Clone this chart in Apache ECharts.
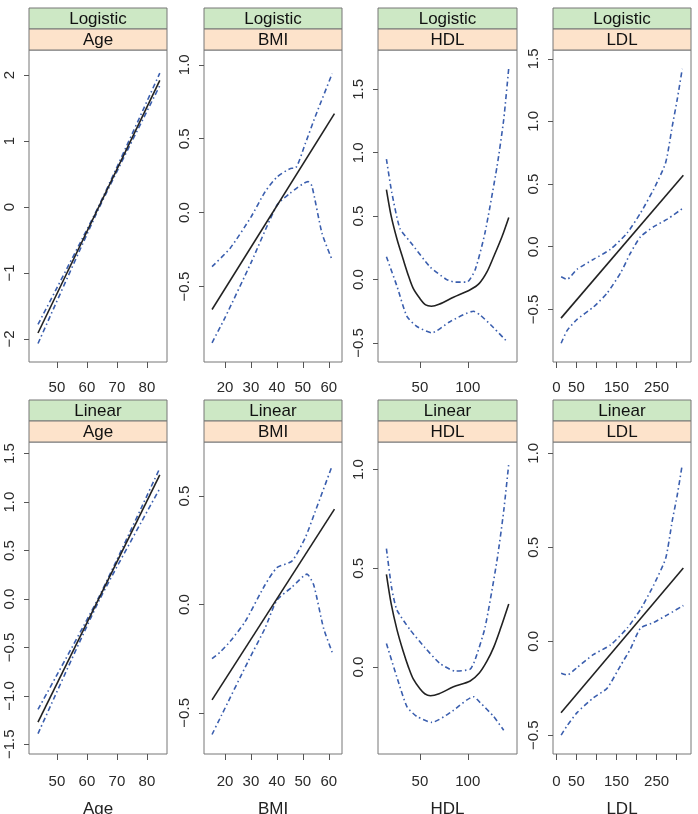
<!DOCTYPE html>
<html>
<head>
<meta charset="utf-8">
<title>Logistic vs Linear</title>
<script src="https://cdn.jsdelivr.net/npm/echarts@6/dist/echarts.min.js"></script>
<style>
  html, body { margin: 0; padding: 0; background: #fff; }
  #chart { width: 698px; height: 814px; }
</style>
</head>
<body>
<div id="chart"></div>
<script>
// ---- data ----
var models = ['Logistic', 'Linear'];
var vars = ['Age', 'BMI', 'HDL', 'LDL'];

// x tick values per variable
var xTicks = {
  Age: [50, 60, 70, 80],
  BMI: [20, 30, 40, 50, 60],
  HDL: [50, 100],
  LDL: [0, 50, 100, 150, 200, 250, 300]
};
var xTickLabels = {
  Age: ['50', '60', '70', '80'],
  BMI: ['20', '30', '40', '50', '60'],
  HDL: ['50', '100'],
  LDL: ['0', '50', '', '150', '', '250', '']
};
var xRange = { Age: [40.7, 86.7], BMI: [11.9, 65.1], HDL: [6.2, 151.4], LDL: [-8.3, 335.8] };

// y ranges + ticks, per panel (row, col)
var yRange = [
  [[-2.35, 2.38], [-1.01, 1.10], [-0.65, 1.81], [-0.92, 1.57]],
  [[-1.60, 1.62], [-0.69, 0.75], [-0.44, 1.14], [-0.60, 1.06]]
];
var yTicks = [
  [[-2, -1, 0, 1, 2], [-0.5, 0, 0.5, 1], [-0.5, 0, 0.5, 1, 1.5], [-0.5, 0, 0.5, 1, 1.5]],
  [[-1.5, -1, -0.5, 0, 0.5, 1, 1.5], [-0.5, 0, 0.5], [0, 0.5, 1], [-0.5, 0, 0.5, 1]]
];

// Logistic fits
var logAgeFit = [[43.7, -1.91], [84.3, 1.92]];
var logAgeUp = [[43.7, -1.78], [64, 0.02], [84.3, 2.03]];
var logAgeLo = [[43.7, -2.07], [64, -0.02], [84.3, 1.84]];

var logBmiFit = [[15.0, -0.655], [62.2, 0.67]];
var logBmiUp = [[15, -0.365], [22, -0.24], [30, -0.03], [35.4, 0.14], [40, 0.24], [45.8, 0.30], [47, 0.30],
  [51, 0.47], [54.8, 0.65], [61.3, 0.94]];
var logBmiLo = [[15, -0.88], [20, -0.71], [30, -0.34], [40, 0.05], [45, 0.13], [52, 0.21], [53.5, 0.18],
  [57.4, -0.14], [61.3, -0.32]];

var logHdlFit = [[15, 0.71], [20, 0.50], [26, 0.32], [32.5, 0.16], [38, 0.03], [43, -0.07], [50, -0.15],
  [56, -0.20], [62, -0.21], [70, -0.195], [85, -0.14], [102.5, -0.08], [112, -0.03], [120, 0.06], [127, 0.18],
  [135.8, 0.34], [142.8, 0.49]];
var logHdlUp = [[15, 0.95], [20.5, 0.69], [29.2, 0.40], [39.6, 0.30], [60.6, 0.10], [78, 0.0], [86.8, -0.02],
  [99, -0.02], [107.8, 0.08], [118, 0.37], [130.5, 0.89], [137.5, 1.26], [142.8, 1.67]];
var logHdlLo = [[15, 0.18], [25.9, -0.05], [36.4, -0.29], [46.8, -0.37], [62.5, -0.42], [81.8, -0.33],
  [106, -0.25], [113, -0.28], [127, -0.38], [141, -0.49]];

var logLdlFit = [[11.7, -0.57], [316.7, 0.57]];
var logLdlUp = [[12, -0.24], [26.7, -0.26], [51.7, -0.18], [93, -0.10], [135, -0.02], [176.7, 0.11],
  [210, 0.27], [243, 0.46], [272.5, 0.67], [289, 0.96], [301.7, 1.18], [314, 1.42]];
var logLdlLo = [[12, -0.77], [26.7, -0.67], [51.7, -0.58], [93, -0.48], [126.7, -0.37], [160, -0.21],
  [185, -0.05], [210, 0.08], [243, 0.16], [276.7, 0.22], [316.7, 0.31]];

// Linear fits
var linAgeFit = [[43.7, -1.27], [84.3, 1.28]];
var linAgeUp = [[43.7, -1.14], [64, 0.02], [84.3, 1.35]];
var linAgeLo = [[43.7, -1.39], [64, -0.02], [84.3, 1.14]];

var linBmiFit = [[15.0, -0.44], [62.2, 0.44]];
var linBmiUp = [[15, -0.25], [18.1, -0.22], [22, -0.17], [27.7, -0.08], [35.4, 0.09], [40, 0.17], [45.8, 0.20],
  [51, 0.31], [54.8, 0.43], [61.3, 0.64]];
var linBmiLo = [[15, -0.60], [18.7, -0.51], [29, -0.26], [35.4, -0.11], [40, 0.02], [45.8, 0.08], [51.6, 0.14],
  [54.2, 0.09], [58, -0.11], [61.3, -0.22]];

var linHdlFit = [[15, 0.47], [20, 0.32], [26, 0.19], [32.5, 0.08], [38, 0.0], [43, -0.06], [50, -0.11],
  [55, -0.135], [61, -0.145], [70, -0.135], [85, -0.10], [102.5, -0.07], [112, -0.03], [120, 0.03], [127, 0.10],
  [133.8, 0.19], [142.8, 0.32]];
var linHdlUp = [[15, 0.60], [20.5, 0.40], [25.9, 0.29], [39.6, 0.19], [55, 0.10], [70.6, 0.02], [86.8, -0.02],
  [102.5, -0.01], [107.8, 0.04], [118, 0.20], [130.5, 0.54], [137.5, 0.79], [142.8, 1.03]];
var linHdlLo = [[15, 0.12], [25.9, -0.05], [36.4, -0.20], [46.8, -0.25], [62.5, -0.28], [81.8, -0.23],
  [106, -0.15], [113, -0.18], [127, -0.25], [137.5, -0.32]];

var linLdlFit = [[11.7, -0.38], [316.7, 0.39]];
var linLdlUp = [[12, -0.17], [26.7, -0.18], [51.7, -0.14], [93, -0.07], [135, -0.02], [176.7, 0.07],
  [210, 0.17], [243, 0.30], [272.5, 0.44], [289, 0.64], [301.7, 0.78], [314, 0.94]];
var linLdlLo = [[12, -0.50], [26.7, -0.45], [51.7, -0.38], [93, -0.30], [126.7, -0.25], [160, -0.13],
  [185, -0.04], [210, 0.07], [243, 0.10], [276.7, 0.14], [316.7, 0.19]];

var fits = [
  [[logAgeFit, logAgeUp, logAgeLo], [logBmiFit, logBmiUp, logBmiLo], [logHdlFit, logHdlUp, logHdlLo], [logLdlFit, logLdlUp, logLdlLo]],
  [[linAgeFit, linAgeUp, linAgeLo], [linBmiFit, linBmiUp, linBmiLo], [linHdlFit, linHdlUp, linHdlLo], [linLdlFit, linLdlUp, linLdlLo]]
];

// ---- layout ----
var colLeft = [29, 204, 378, 553];
var colWidth = [138, 138, 139, 138];
var rowTop = [50, 442];
var plotH = 312;
var stripH = 21;

var font = 'Liberation Sans, Arial, Helvetica, sans-serif';
var blue = '#3a5eae';
var minus = function (s) { return String(s).replace('-', '\u2212'); };

var grids = [], xAxes = [], yAxes = [], series = [], graphics = [];
var idx = 0;
for (var r = 0; r < 2; r++) {
  for (var c = 0; c < 4; c++) {
    var v = vars[c];
    grids.push({
      left: colLeft[c], top: rowTop[r], width: colWidth[c], height: plotH,
      containLabel: false, outerBoundsMode: 'none',
      show: true, borderColor: '#777', borderWidth: 1, backgroundColor: '#fff'
    });
    var intFmt = yTicks[r][c].every(Number.isInteger);
    xAxes.push({
      type: 'value', gridIndex: idx, min: xRange[v][0], max: xRange[v][1],
      axisLine: { show: false, onZero: false }, splitLine: { show: false },
      axisTick: { show: true, inside: false, length: 6, lineStyle: { color: '#555' }, customValues: xTicks[v] },
      axisLabel: {
        customValues: xTicks[v], color: '#2a2a2a', fontSize: 15, fontFamily: font, margin: r === 0 ? 18 : 20,
        formatter: (function (vv) {
          return function (val) {
            var i = xTicks[vv].indexOf(val);
            return i >= 0 ? xTickLabels[vv][i] : '';
          };
        })(v)
      },
      name: r === 1 ? v : '', nameLocation: 'middle', nameGap: 47,
      nameTextStyle: { color: '#222', fontSize: 17, fontFamily: font }
    });
    yAxes.push({
      type: 'value', gridIndex: idx, min: yRange[r][c][0], max: yRange[r][c][1],
      axisLine: { show: false, onZero: false }, splitLine: { show: false },
      axisTick: { show: true, inside: false, length: 5, lineStyle: { color: '#555' }, customValues: yTicks[r][c] },
      axisLabel: {
        customValues: yTicks[r][c], rotate: 90, color: '#2a2a2a', fontSize: 15, fontFamily: font, margin: 12,
        formatter: (function (isInt) {
          return function (val) {
            if (Math.abs(val) < 1e-9) val = 0;
            return minus(isInt ? val.toFixed(0) : val.toFixed(1));
          };
        })(intFmt)
      }
    });
    var f = fits[r][c];
    series.push({
      type: 'line', xAxisIndex: idx, yAxisIndex: idx, data: f[0], showSymbol: false,
      smooth: c === 2 ? 0.3 : false, silent: true, z: 3,
      lineStyle: { color: '#222', width: 1.6 }
    });
    for (var k = 1; k < 3; k++) {
      series.push({
        type: 'line', xAxisIndex: idx, yAxisIndex: idx, data: f[k], showSymbol: false,
        smooth: 0.2, silent: true, z: 2,
        lineStyle: { color: blue, width: 1.6, type: [5, 3, 1.5, 3] }
      });
    }
    // strips
    var sy = rowTop[r] - 2 * stripH;
    graphics.push({
      type: 'rect', shape: { x: colLeft[c], y: sy, width: colWidth[c], height: stripH },
      style: { fill: '#cde8c5', stroke: '#777', lineWidth: 1 }
    });
    graphics.push({
      type: 'rect', shape: { x: colLeft[c], y: sy + stripH, width: colWidth[c], height: stripH },
      style: { fill: '#fde3cb', stroke: '#777', lineWidth: 1 }
    });
    graphics.push({
      type: 'text', x: colLeft[c] + colWidth[c] / 2, y: sy + stripH / 2 + 1,
      style: { text: models[r], fill: '#111', font: '17px ' + font, textAlign: 'center', textVerticalAlign: 'middle' }
    });
    graphics.push({
      type: 'text', x: colLeft[c] + colWidth[c] / 2, y: sy + stripH * 1.5 + 1,
      style: { text: v, fill: '#111', font: '17px ' + font, textAlign: 'center', textVerticalAlign: 'middle' }
    });
    idx++;
  }
}

var chart = echarts.init(document.getElementById('chart'));
chart.setOption({
  animation: false,
  backgroundColor: '#fff',
  grid: grids,
  xAxis: xAxes,
  yAxis: yAxes,
  series: series,
  graphic: graphics
});
</script>
</body>
</html>
